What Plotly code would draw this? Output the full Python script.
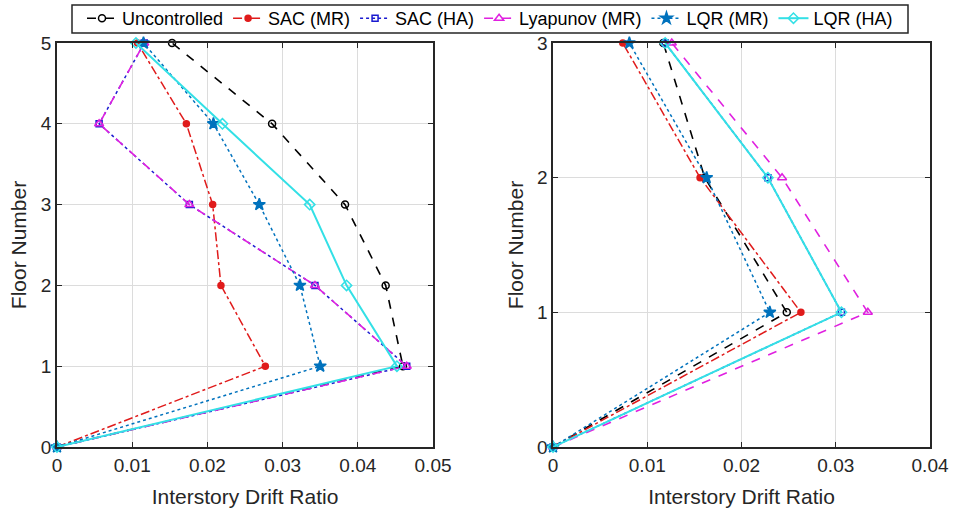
import plotly.graph_objects as go

floors_left = [0, 1, 2, 3, 4, 5]
floors_right = [0, 1, 2, 3]

series_names = ["Uncontrolled", "SAC (MR)", "SAC (HA)", "Lyapunov (MR)", "LQR (MR)", "LQR (HA)"]

# Left panel (5-storey) interstory drift ratios
left_uncontrolled = [0, 0.0460, 0.0437, 0.0383, 0.0286, 0.0153]
left_sac_mr = [0, 0.0277, 0.0218, 0.0207, 0.0172, 0.0107]
left_sac_ha = [0, 0.0465, 0.0343, 0.0176, 0.0056, 0.0116]
left_lyap_mr = [0, 0.0465, 0.0343, 0.0176, 0.0056, 0.0116]
left_lqr_mr = [0, 0.0350, 0.0323, 0.0269, 0.0208, 0.0115]
left_lqr_ha = [0, 0.0452, 0.0385, 0.0336, 0.0220, 0.0105]

# Right panel (3-storey) interstory drift ratios
right_uncontrolled = [0, 0.0248, 0.0161, 0.0117]
right_sac_mr = [0, 0.0263, 0.0156, 0.0074]
right_sac_ha = [0, 0.0306, 0.0228, 0.0119]
right_lyap_mr = [0, 0.0334, 0.0243, 0.0126]
right_lqr_mr = [0, 0.0230, 0.0163, 0.0081]
right_lqr_ha = [0, 0.0306, 0.0228, 0.0119]

x_ticks_left = [0, 0.01, 0.02, 0.03, 0.04, 0.05]
x_ticks_right = [0, 0.01, 0.02, 0.03, 0.04]

styles = [
    dict(color="#000000", dash="dash", symbol="circle-open", size=7, width=1.6),
    dict(color="#e01b1b", dash="dashdot", symbol="circle", size=6, width=1.5),
    dict(color="#1a1ad0", dash="dot", symbol="square-open", size=6, width=1.5),
    dict(color="#e020e0", dash="dash", symbol="triangle-up-open", size=8, width=1.6),
    dict(color="#0072BD", dash="dot", symbol="star", size=9, width=1.5),
    dict(color="#33e0e6", dash="solid", symbol="diamond-open", size=8, width=2),
]

left_data = [left_uncontrolled, left_sac_mr, left_sac_ha, left_lyap_mr, left_lqr_mr, left_lqr_ha]
right_data = [right_uncontrolled, right_sac_mr, right_sac_ha, right_lyap_mr, right_lqr_mr, right_lqr_ha]

fig = go.Figure()
for name, st, xs in zip(series_names, styles, left_data):
    fig.add_trace(go.Scatter(
        x=xs, y=floors_left, name=name, mode="lines+markers",
        line=dict(color=st["color"], dash=st["dash"], width=st["width"]),
        marker=dict(symbol=st["symbol"], size=st["size"], color=st["color"],
                    line=dict(color=st["color"], width=1.5)),
        xaxis="x", yaxis="y", legendgroup=name, showlegend=True, cliponaxis=False))
for name, st, xs in zip(series_names, styles, right_data):
    fig.add_trace(go.Scatter(
        x=xs, y=floors_right, name=name, mode="lines+markers",
        line=dict(color=st["color"], dash=st["dash"], width=st["width"]),
        marker=dict(symbol=st["symbol"], size=st["size"], color=st["color"],
                    line=dict(color=st["color"], width=1.5)),
        xaxis="x2", yaxis="y2", legendgroup=name, showlegend=False, cliponaxis=False))

font_family = "Liberation Sans, Arial, sans-serif"
axis_common = dict(
    showgrid=True, gridcolor="#dcdcdc", gridwidth=1,
    showline=True, linecolor="#262626", linewidth=1.5, mirror="ticks",
    ticks="inside", ticklen=5, tickcolor="#262626", zeroline=False,
    tickfont=dict(family=font_family, size=19, color="#262626"),
    automargin=False,
)

# Legend frame (decoration only), drawn as a paper-referenced box
fig.add_shape(type="rect", xref="paper", yref="paper",
              x0=72 / 953, x1=908 / 953, y0=1 - 33 / 514, y1=1 - 5 / 514,
              line=dict(color="#262626", width=1.5), fillcolor="white", layer="above")

fig.update_layout(
    width=953, height=514,
    margin=dict(l=0, r=0, t=0, b=0, autoexpand=False),
    paper_bgcolor="white", plot_bgcolor="white",
    font=dict(family=font_family, color="#262626"),
    xaxis=dict(domain=[0.0598, 0.4544], range=[0, 0.05], tickvals=x_ticks_left,
               ticktext=[f"{v:g}" for v in x_ticks_left], anchor="y",
               title=dict(text="Interstory Drift Ratio", font=dict(size=21), standoff=15),
               **axis_common),
    yaxis=dict(domain=[0.1304, 0.9163], range=[0, 5], dtick=1, anchor="x",
               title=dict(text="Floor Number", font=dict(size=21), standoff=8),
               **axis_common),
    xaxis2=dict(domain=[0.5803, 0.9759], range=[0, 0.04], tickvals=x_ticks_right,
                ticktext=[f"{v:g}" for v in x_ticks_right], anchor="y2",
                title=dict(text="Interstory Drift Ratio", font=dict(size=21), standoff=15),
                **axis_common),
    yaxis2=dict(domain=[0.1304, 0.9163], range=[0, 3], dtick=1, anchor="x2",
                title=dict(text="Floor Number", font=dict(size=21), standoff=8),
                **axis_common),
    legend=dict(orientation="h", x=490 / 953, xanchor="center", y=1.0, yanchor="top",
                bordercolor="rgba(0,0,0,0)", borderwidth=0, bgcolor="rgba(0,0,0,0)",
                font=dict(family=font_family, size=18, color="#000000"),
                itemwidth=30, tracegroupgap=0, valign="middle"),
)

fig.write_html("out.html")
